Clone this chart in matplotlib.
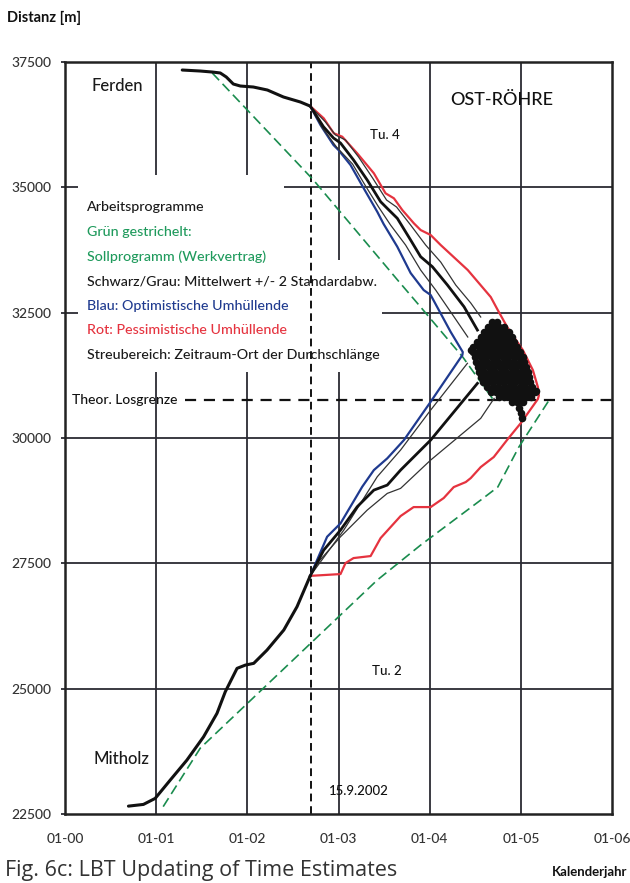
import matplotlib
matplotlib.use('Agg')
import matplotlib.pyplot as plt

plt.rcParams['font.family'] = ['Lato', 'DejaVu Sans']
plt.rcParams['font.weight'] = 'medium'

# Ist-Vortrieb bis 15.9.2002 (Jahr, Distanz m)
ferden_ist_jahr = [2001.286, 2001.484, 2001.615, 2001.703, 2001.769, 2001.846, 2001.923,
                   2002.066, 2002.220, 2002.396, 2002.582, 2002.69]
ferden_ist_dist = [37340, 37320, 37300, 37281, 37201, 37061, 37021,
                   37001, 36941, 36802, 36702, 36620]
mitholz_ist_jahr = [2000.696, 2000.860, 2000.989, 2001.154, 2001.337, 2001.520, 2001.667,
                    2001.758, 2001.887, 2001.978, 2002.070, 2002.216, 2002.400, 2002.545, 2002.69]
mitholz_ist_dist = [22657, 22691, 22811, 23176, 23575, 24040, 24507,
                    24938, 25405, 25470, 25505, 25770, 26170, 26635, 27250]

# Prognose Tu. 4 (von Ferden her)
mittel_ob_jahr = [2002.69, 2002.835, 2002.945, 2003.022, 2003.165, 2003.315, 2003.462, 2003.553,
                  2003.645, 2003.791, 2003.901, 2004.030, 2004.195, 2004.377, 2004.524]
mittel_ob_dist = [36620, 36209, 35984, 35884, 35545, 35146, 34713, 34547,
                  34382, 33949, 33616, 33416, 33051, 32618, 32153]
grau1_ob_jahr = [2002.69, 2002.824, 2002.978, 2003.154, 2003.297, 2003.440, 2003.571,
                 2003.736, 2003.901, 2004.066, 2004.231, 2004.418]
grau1_ob_dist = [36620, 36183, 35804, 35465, 35026, 34607, 34248,
                 33849, 33350, 32951, 32513, 32014]
grau2_ob_jahr = [2002.69, 2002.857, 2002.967, 2003.077, 2003.220, 2003.374, 2003.527,
                 2003.637, 2003.791, 2003.956, 2004.121, 2004.286, 2004.451, 2004.560]
grau2_ob_dist = [36620, 36303, 36044, 35944, 35605, 35186, 34747,
                 34607, 34248, 33849, 33510, 33051, 32692, 32413]

# Prognose Tu. 2 (von Mitholz her)
mittel_un_jahr = [2002.69, 2002.838, 2003.022, 2003.205, 2003.388, 2003.535, 2003.681, 2004.011, 2004.524]
mittel_un_dist = [27250, 27764, 28163, 28628, 28961, 29061, 29360, 29959, 31090]
grau1_un_jahr = [2002.69, 2003.058, 2003.425, 2003.681, 2004.011, 2004.414]
grau1_un_dist = [27250, 28163, 29227, 29760, 30557, 31490]
grau2_un_jahr = [2002.69, 2002.766, 2003.022, 2003.315, 2003.535, 2003.681, 2004.011, 2004.560, 2004.707]
grau2_un_dist = [27250, 27499, 28030, 28562, 28895, 28995, 29560, 30392, 30790]

# Umhuellende (oben -> Durchschlag -> unten)
blau_jahr = [2002.69, 2002.802, 2002.945, 2003.0, 2003.132, 2003.275, 2003.425, 2003.495,
             2003.645, 2003.791, 2003.934, 2004.011, 2004.231, 2004.363,
             2004.359, 2004.011, 2003.718, 2003.535, 2003.388, 2003.260, 2003.022, 2002.875, 2002.69]
blau_dist = [36620, 36243, 35844, 35744, 35445, 34986, 34513, 34268,
             33815, 33291, 32951, 32852, 32114, 31715,
             31655, 30723, 29959, 29594, 29360, 29027, 28297, 28030, 27250]
rot_jahr = [2002.69, 2002.838, 2002.948, 2003.041, 2003.205, 2003.388, 2003.516, 2003.608,
            2003.700, 2003.827, 2003.901, 2004.011, 2004.121, 2004.418, 2004.670, 2004.747,
            2004.857, 2005.022, 2005.132, 2005.187, 2005.198,
            2005.187, 2005.0, 2004.857, 2004.703, 2004.560, 2004.451, 2004.396, 2004.264,
            2004.154, 2004.011, 2003.824, 2003.681, 2003.462, 2003.352, 2003.165, 2003.077,
            2003.022, 2002.69]
rot_dist = [36620, 36377, 36078, 36010, 35679, 35280, 34881, 34781,
            34547, 34282, 34148, 34049, 33849, 33350, 32812, 32552,
            32193, 31754, 31355, 31016, 30850,
            30777, 30298, 29979, 29620, 29420, 29201, 29121, 29021,
            28802, 28622, 28622, 28443, 28004, 27645, 27605, 27505,
            27286, 27250]

# Sollprogramm (Werkvertrag)
soll_ob_jahr = [2001.615, 2002.0, 2002.725, 2003.648, 2003.901, 2004.363, 2004.703]
soll_ob_dist = [37281, 36542, 35146, 33151, 32612, 31615, 30750]
soll_un_jahr = [2001.077, 2001.484, 2003.425, 2003.901, 2004.560, 2004.747, 2004.978, 2005.308]
soll_un_dist = [22647, 23814, 27166, 27864, 28762, 29021, 29819, 30750]

losgrenze = 30750
stichtag = 2002.70

# Streubereich Durchschlag: Zeilen (Distanz, Jahre)
streu_dist = [32310, 32210, 32110, 32010, 31910, 31810, 31710, 31610, 31510,
              31420, 31320, 31220, 31120, 31020, 30920, 30820, 30720]
streu_jahre = [
    [4.68, 4.74],
    [4.64, 4.70, 4.76, 4.81],
    [4.60, 4.66, 4.72, 4.78, 4.84, 4.87],
    [4.56, 4.62, 4.68, 4.74, 4.80, 4.86, 4.90],
    [4.52, 4.58, 4.64, 4.70, 4.76, 4.82, 4.88, 4.93],
    [4.48, 4.55, 4.61, 4.67, 4.73, 4.79, 4.85, 4.91, 4.96],
    [4.47, 4.53, 4.59, 4.65, 4.71, 4.77, 4.83, 4.89, 4.95, 4.99],
    [4.50, 4.56, 4.62, 4.68, 4.74, 4.80, 4.86, 4.92, 4.98, 5.02],
    [4.51, 4.57, 4.63, 4.69, 4.75, 4.81, 4.87, 4.93, 4.99, 5.04],
    [4.53, 4.59, 4.65, 4.71, 4.77, 4.83, 4.89, 4.95, 5.01, 5.06],
    [4.54, 4.60, 4.66, 4.72, 4.78, 4.84, 4.90, 4.96, 5.02, 5.08],
    [4.56, 4.62, 4.68, 4.74, 4.80, 4.86, 4.92, 4.98, 5.04, 5.09],
    [4.58, 4.64, 4.70, 4.76, 4.82, 4.88, 4.94, 5.00, 5.06, 5.10],
    [4.63, 4.69, 4.75, 4.81, 4.87, 4.93, 4.99, 5.05, 5.12],
    [4.67, 4.73, 4.79, 4.85, 4.91, 4.97, 5.03, 5.09, 5.15],
    [4.76, 4.82, 4.88, 4.94, 5.00, 5.06, 5.11],
    [4.90, 4.96, 5.02],
]
streu_rest_jahr = [4.98, 5.00, 5.01, 4.45, 5.17]
streu_rest_dist = [30600, 30500, 30400, 31760, 30930]

x_ticks = [2000, 2001, 2002, 2003, 2004, 2005, 2006]
x_labels = ['01-00', '01-01', '01-02', '01-03', '01-04', '01-05', '01-06']
y_ticks = [22500, 25000, 27500, 30000, 32500, 35000, 37500]

legende = [
    ('Arbeitsprogramme', '#1a1a1a'),
    ('Grün gestrichelt:', '#1f9a5c'),
    ('Sollprogramm (Werkvertrag)', '#1f9a5c'),
    ('Schwarz/Grau: Mittelwert +/- 2 Standardabw.', '#1a1a1a'),
    ('Blau: Optimistische Umhüllende', '#1f3a8f'),
    ('Rot: Pessimistische Umhüllende', '#e5333f'),
    ('Streubereich: Zeitraum-Ort der Durchschlänge', '#1a1a1a'),
]

fig = plt.figure(figsize=(6.3, 8.83), dpi=100)
ax = fig.add_axes([65 / 630, 1 - 814 / 883, 547 / 630, 752 / 883])
ax.set_xlim(2000, 2006)
ax.set_ylim(22500, 37500)

# Gitter mit Aussparung fuer den Legendentext
gc = '#2b2b33'
for x in [2001, 2002]:
    ax.vlines(x, 22500, 31316, color=gc, lw=1.3, zorder=1)
    ax.vlines(x, 35246, 37500, color=gc, lw=1.3, zorder=1)
ax.vlines(2003, 22500, 31316, color=gc, lw=1.3, zorder=1)
ax.vlines(2003, 33550, 37500, color=gc, lw=1.3, zorder=1)
for x in [2004, 2005]:
    ax.vlines(x, 22500, 37500, color=gc, lw=1.3, zorder=1)
for y in [25000, 27500, 30000]:
    ax.hlines(y, 2000, 2006, color=gc, lw=1.3, zorder=1)
ax.hlines([35000, 32500], 2000, 2000.14, color=gc, lw=1.3, zorder=1)
ax.hlines(35000, 2002.40, 2006, color=gc, lw=1.3, zorder=1)
ax.hlines(32500, 2003.48, 2006, color=gc, lw=1.3, zorder=1)

# Stichtag und Losgrenze
ax.axvline(stichtag, color='#111111', lw=1.4, ls=(0, (4, 2.5)), zorder=2)
ax.hlines(losgrenze, 2001.32, 2006, color='#111111', lw=1.6, ls=(0, (5, 3.5)), zorder=2)

# Sollprogramm
green = '#1a8c4e'
ax.plot(soll_ob_jahr, soll_ob_dist, color=green, lw=1.2, ls=(0, (6, 3)), zorder=3)
ax.plot(soll_un_jahr, soll_un_dist, color=green, lw=1.2, ls=(0, (6, 3)), zorder=3)

# Ist
ax.plot(ferden_ist_jahr, ferden_ist_dist, color='#111111', lw=2.2, zorder=5,
        solid_capstyle='round', solid_joinstyle='round')
ax.plot(mitholz_ist_jahr, mitholz_ist_dist, color='#111111', lw=2.2, zorder=5,
        solid_capstyle='round', solid_joinstyle='round')

# Prognosen
ax.plot(rot_jahr, rot_dist, color='#e5333f', lw=1.6, zorder=4, solid_joinstyle='round')
ax.plot(blau_jahr, blau_dist, color='#1f3a8f', lw=1.6, zorder=4, solid_joinstyle='round')
for xs, ys in [(grau1_ob_jahr, grau1_ob_dist), (grau2_ob_jahr, grau2_ob_dist),
               (grau1_un_jahr, grau1_un_dist), (grau2_un_jahr, grau2_un_dist)]:
    ax.plot(xs, ys, color='#333333', lw=0.9, zorder=4)
ax.plot(mittel_ob_jahr, mittel_ob_dist, color='#111111', lw=2.0, zorder=5, solid_joinstyle='round')
ax.plot(mittel_un_jahr, mittel_un_dist, color='#111111', lw=2.0, zorder=5, solid_joinstyle='round')

# Streubereich
sx, sy = [], []
for d, jahre in zip(streu_dist, streu_jahre):
    for j in jahre:
        sx.append(2000 + j)
        sy.append(d)
for j, d in zip(streu_rest_jahr, streu_rest_dist):
    sx.append(2000 + j)
    sy.append(d)
ax.scatter(sx, sy, s=30, color='#111111', linewidths=0, zorder=6)

# Achsen
ax.set_xticks(x_ticks)
ax.set_xticklabels(x_labels)
ax.set_yticks(y_ticks)
ax.tick_params(axis='x', length=0, pad=14, labelsize=10, labelcolor='#333333')
ax.tick_params(axis='y', direction='out', length=3, width=1.3, color=gc, pad=7,
               labelsize=10, labelcolor='#333333')
for s in ax.spines.values():
    s.set_linewidth(1.8)
    s.set_color('#222222')

# Beschriftungen
ax.text(2000.286, 37021, 'Ferden', fontsize=12, color='#1a1a1a', va='center')
ax.text(2004.23, 36742, 'OST-RÖHRE', fontsize=13, color='#111111', va='center')
ax.text(2003.35, 36044, 'Tu. 4', fontsize=9.5, color='#111111', va='center')
ax.text(2003.37, 25350, 'Tu. 2', fontsize=9.5, color='#111111', va='center')
ax.text(2000.31, 23595, 'Mitholz', fontsize=12, color='#1a1a1a', va='center')
ax.text(2002.89, 22956, '15.9.2002', fontsize=9.5, color='#111111', va='center')
ax.text(2000.077, losgrenze, 'Theor. Losgrenze', fontsize=10, color='#111111', va='center')

leg_y = [34607, 34108, 33610, 33131, 32632, 32153, 31655]
for (txt, col), y in zip(legende, leg_y):
    ax.text(2000.242, y, txt, fontsize=10.3, color=col, va='center', zorder=7)

fig.text(7 / 630, 1 - 18 / 883, 'Distanz [m]', fontsize=10.5, fontweight='bold',
         color='#111111', va='center')
fig.text(627 / 630, 1 - 872 / 883, 'Kalenderjahr', fontsize=9.5, fontweight='bold',
         color='#111111', va='center', ha='right')
fig.text(5 / 630, 2 / 883, 'Fig. 6c: LBT Updating of Time Estimates', fontsize=15.5,
         family=['Open Sans', 'DejaVu Sans'], fontweight='normal', color='#333333',
         va='bottom')

fig.savefig('out.png', dpi=100, facecolor='white')
plt.close(fig)
